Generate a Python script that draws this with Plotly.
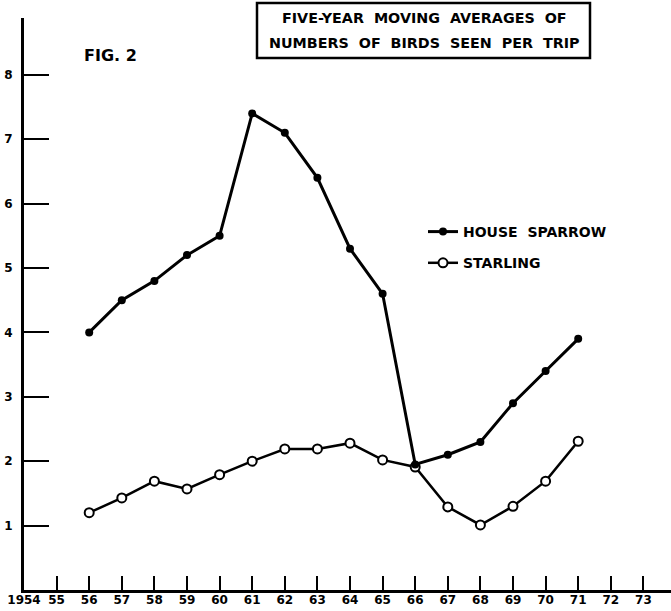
import plotly.graph_objects as go

years = list(range(1956, 1972))
house_sparrow = [4.0, 4.5, 4.8, 5.2, 5.5, 7.4, 7.1, 6.4, 5.3, 4.6, 1.95, 2.1, 2.3, 2.9, 3.4, 3.9]
starling = [1.2, 1.43, 1.69, 1.57, 1.79, 2.0, 2.19, 2.19, 2.28, 2.02, 1.91, 1.29, 1.01, 1.3, 1.69, 2.31]

x_tickvals = list(range(1954, 1974))
x_ticktext = ["1954"] + [str(y % 100) for y in range(1955, 1974)]
y_tickvals = [1, 2, 3, 4, 5, 6, 7, 8]

NB = "\u00a0"
title_lines = ["FIVE-YEAR" + NB * 2 + "MOVING" + NB * 2 + "AVERAGES" + NB * 2 + "OF",
               "NUMBERS" + NB * 2 + "OF" + NB * 2 + "BIRDS" + NB * 2 + "SEEN" + NB * 2 + "PER" + NB * 2 + "TRIP"]
fig_label = "FIG." + NB + "2"

FONT = "DejaVu Sans"

# plot area in pixels
W, H = 671, 611
L, R, T, B = 24, 0, 18, 21
pw, ph = W - L - R, H - T - B


def px(x):
    return (x - L) / pw


def py(y):
    return (H - B - y) / ph


fig = go.Figure()
fig.add_trace(go.Scatter(
    x=years, y=starling, name="STARLING", mode="lines+markers",
    legendgroup="b", legendrank=2,
    line=dict(color="black", width=2.5),
    marker=dict(symbol="circle", size=9, color="white", line=dict(color="black", width=2)),
))
fig.add_trace(go.Scatter(
    x=years, y=house_sparrow, name="HOUSE" + NB * 2 + "SPARROW", mode="lines+markers",
    legendgroup="a", legendrank=1,
    line=dict(color="black", width=3),
    marker=dict(symbol="circle", size=8, color="black"),
))

fig.update_layout(
    width=W, height=H,
    margin=dict(l=L, r=R, t=T, b=B),
    paper_bgcolor="white", plot_bgcolor="white",
    font=dict(family=FONT, color="black", size=12, weight="bold"),
    showlegend=True,
    legend=dict(
        x=px(423), y=py(216), xanchor="left", yanchor="top",
        traceorder="grouped", bgcolor="rgba(0,0,0,0)",
        font=dict(family=FONT, size=14, weight="bold"),
        itemwidth=30, tracegroupgap=10,
    ),
    xaxis=dict(
        range=[1954, 1954 + pw / 32.6],
        tickmode="array", tickvals=x_tickvals, ticktext=x_ticktext,
        ticks="inside", ticklen=14, tickwidth=2, tickcolor="black",
        showline=True, linewidth=3, linecolor="black",
        showgrid=False, zeroline=False, ticklabelstandoff=-3,
        tickfont=dict(family=FONT, size=12, weight="bold"),
    ),
    yaxis=dict(
        range=[0, ph / 64.4],
        tickmode="array", tickvals=y_tickvals,
        ticks="inside", ticklen=25, tickwidth=2, tickcolor="black",
        showline=True, linewidth=3, linecolor="black",
        showgrid=False, zeroline=False, ticklabelstandoff=6,
        tickfont=dict(family=FONT, size=12, weight="bold"),
    ),
)

fig.add_shape(type="rect", xref="paper", yref="paper",
              x0=px(257), x1=px(590), y0=py(58), y1=py(3),
              line=dict(color="black", width=2.5), fillcolor="white")

for i, line in enumerate(title_lines):
    fig.add_annotation(xref="paper", yref="paper", x=px(424), y=py(18 + 25 * i),
                       text=line, showarrow=False, xanchor="center", yanchor="middle",
                       font=dict(family=FONT, size=14.3, weight="bold"))

fig.add_annotation(xref="paper", yref="paper", x=px(82), y=py(55),
                   text=fig_label, showarrow=False, xanchor="left", yanchor="middle",
                   font=dict(family=FONT, size=16, weight="bold"))

fig.write_html("out.html", post_script="document.body.style.margin='0';",
               config={"displayModeBar": False})
